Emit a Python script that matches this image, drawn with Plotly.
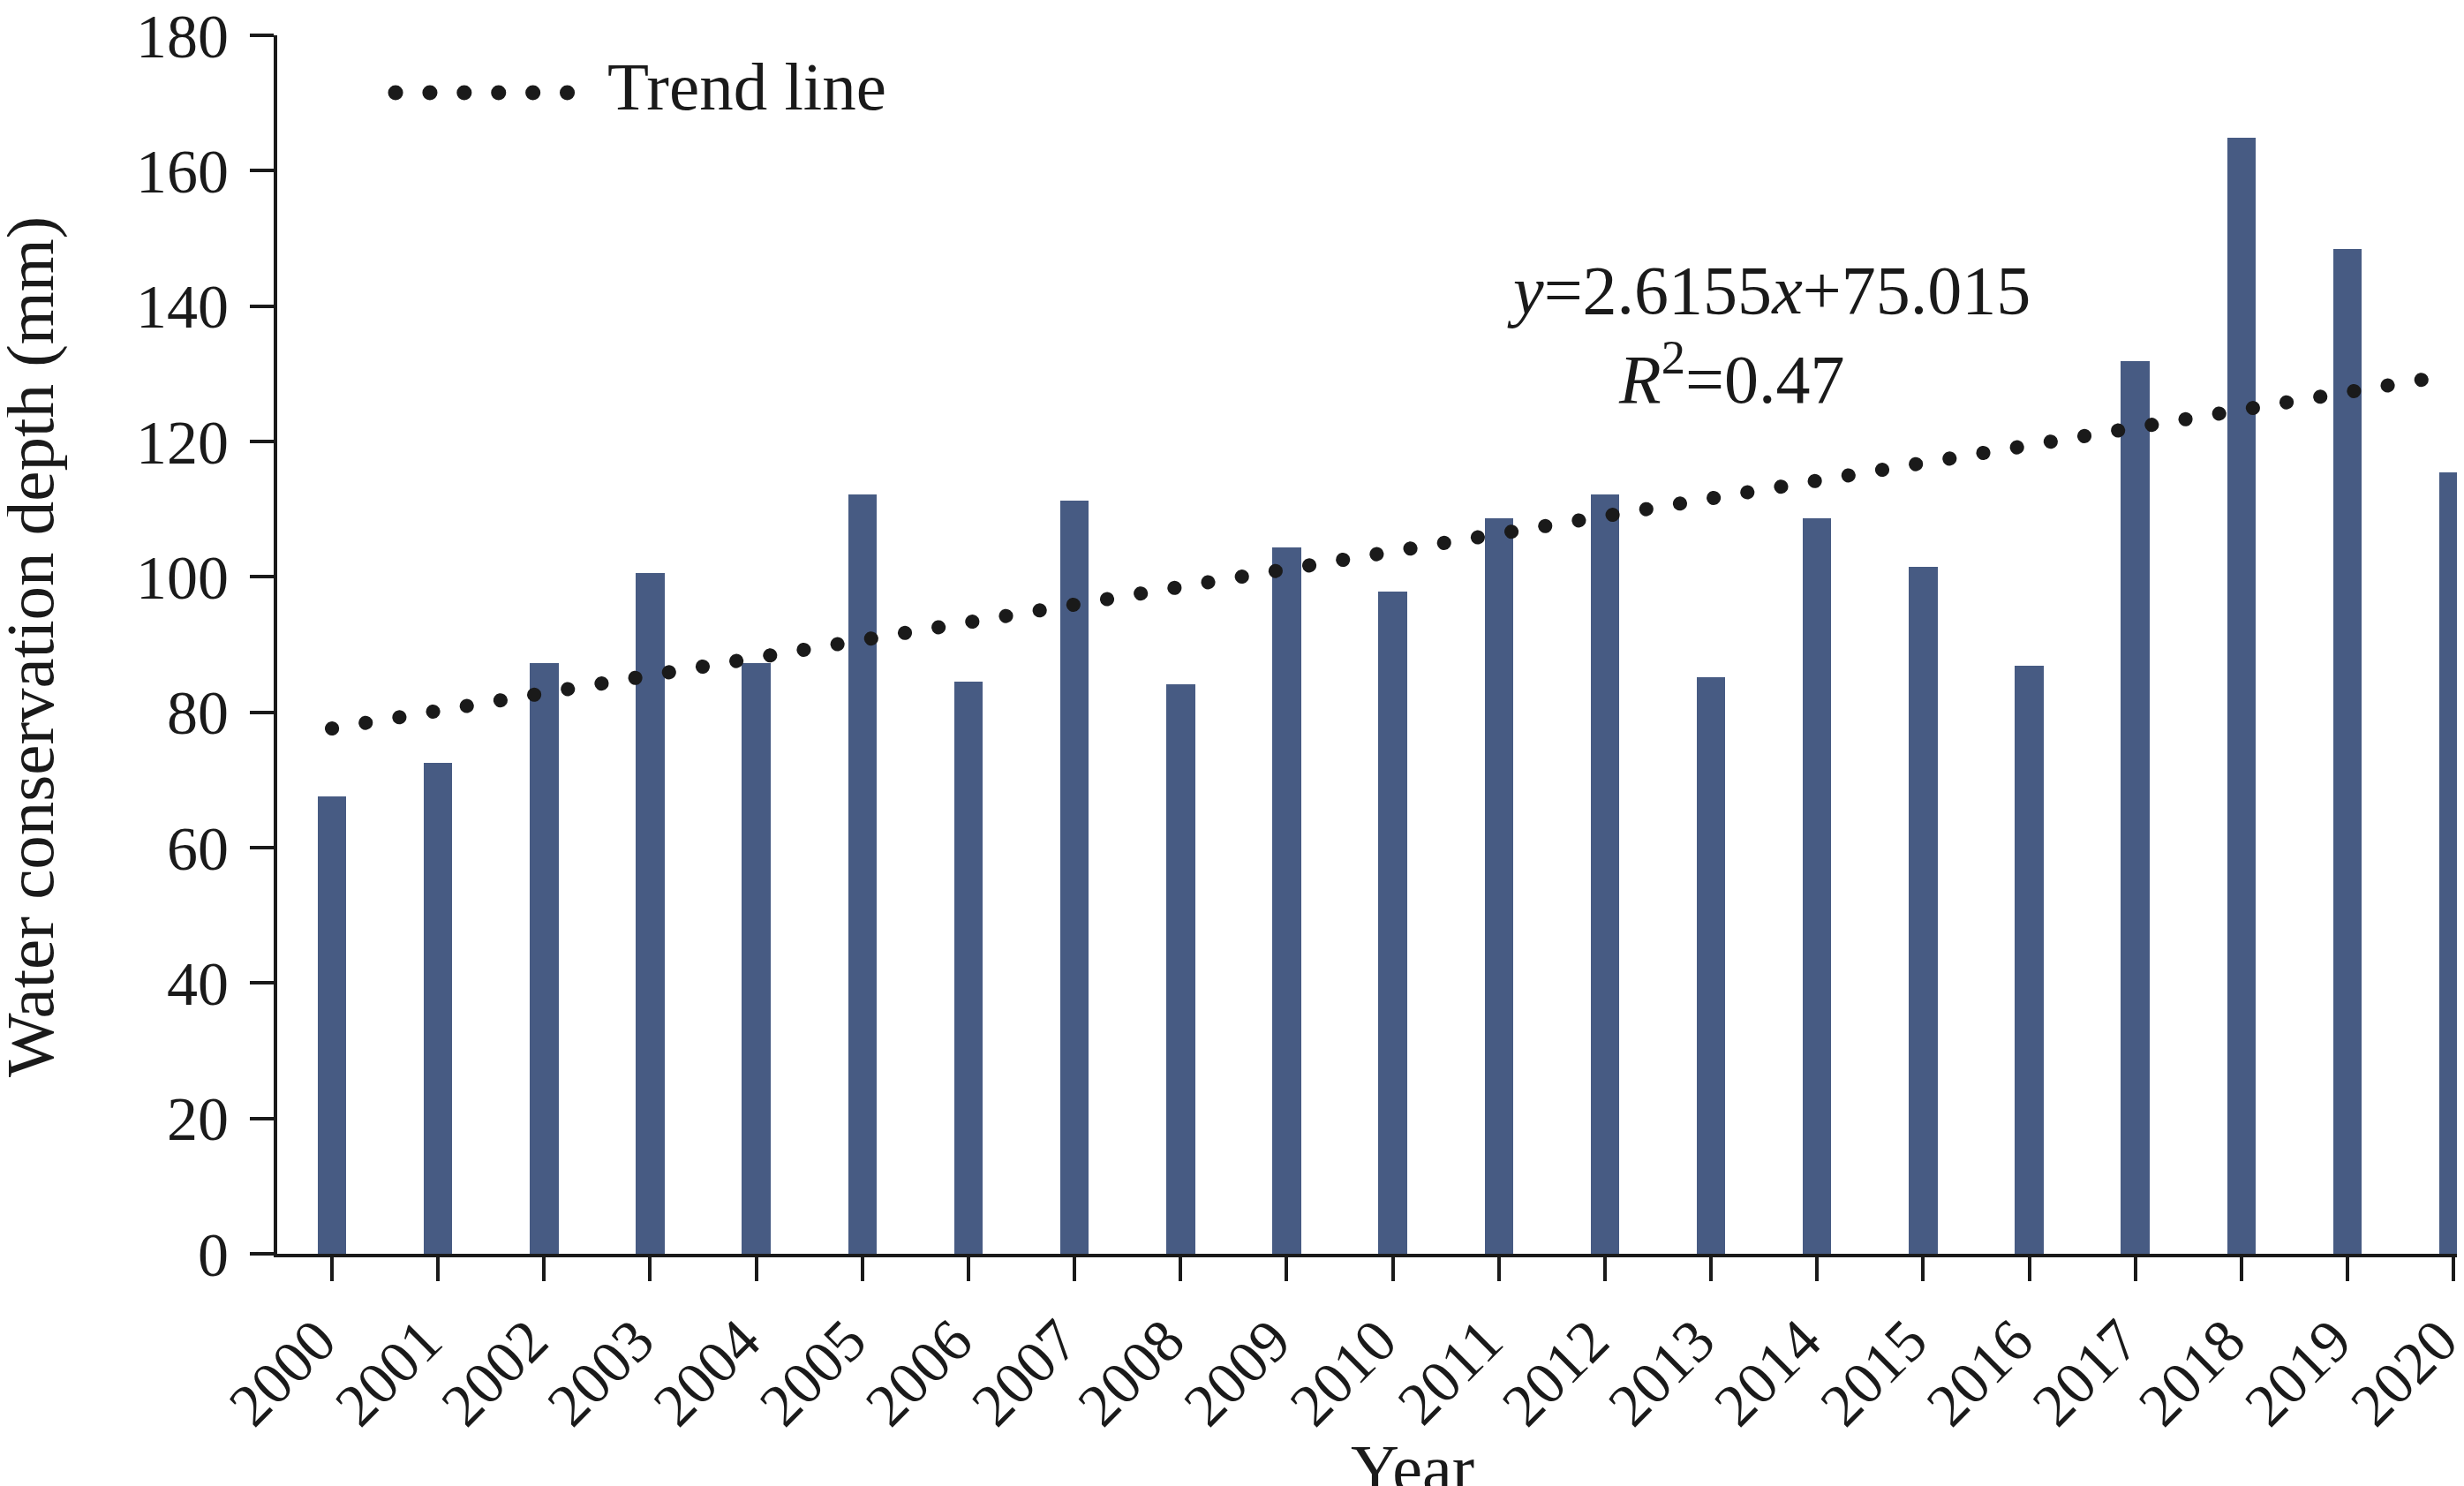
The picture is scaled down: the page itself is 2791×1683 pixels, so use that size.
import plotly.graph_objects as go

# ---- data ----
years = list(range(2000, 2021))
depth = [67.6, 72.5, 87.3, 100.6, 87.3, 112.2, 84.5, 111.2, 84.1, 104.3,
         97.8, 108.7, 112.2, 85.2, 108.7, 101.5, 86.9, 131.9, 164.9, 148.4, 115.4]
trend_years = [2000, 2020]
trend_values = [77.6, 129.9]
y_ticks = [0, 20, 40, 60, 80, 100, 120, 140, 160, 180]
equation_text = "<i>y</i>=2.6155<i>x</i>+75.015"
r2_text = "<i>R</i><sup>2</sup>=0.47"
legend_label = "Trend line"
y_title = "Water conservation depth (mm)"
x_title = "Year"

# ---- geometry (pixels) ----
W, H = 2791, 1683
L, R, T, B = 306, 2782, 32, 1412
FONT = "Liberation Serif, Times New Roman, serif"
INK = "#1a1a1a"
BAR = "#475b83"


def px(xp):
    return (xp - L) / (R - L)


def py(yp):
    return (B - yp) / (B - T)


fig = go.Figure()
fig.add_trace(go.Bar(x=years, y=depth, width=0.27, marker=dict(color=BAR, line=dict(width=0)),
                     showlegend=False))
fig.add_trace(go.Scatter(x=trend_years, y=trend_values, mode="lines",
                         line=dict(color=INK, width=16, dash="0.1px,38.6px"),
                         showlegend=False))

# manual legend
fig.add_shape(type="line", xref="paper", yref="paper",
              x0=px(440), x1=px(636), y0=py(97), y1=py(97),
              line=dict(color=INK, width=17, dash="0.1px,38.8px"))
fig.add_annotation(text=legend_label, xref="paper", yref="paper", x=px(678), y=py(90),
                   xanchor="left", yanchor="middle", showarrow=False,
                   font=dict(family=FONT, size=77, color=INK))
fig.add_annotation(text=equation_text, xref="paper", yref="paper", x=px(1995), y=py(321),
                   xanchor="center", yanchor="middle", showarrow=False,
                   font=dict(family=FONT, size=78, color=INK))
fig.add_annotation(text=r2_text, xref="paper", yref="paper", x=px(1953), y=py(416),
                   xanchor="center", yanchor="middle", showarrow=False,
                   font=dict(family=FONT, size=78, color=INK))
fig.add_annotation(text=y_title, xref="paper", yref="paper", x=px(26), y=py(725),
                   xanchor="center", yanchor="middle", textangle=-90, showarrow=False,
                   font=dict(family=FONT, size=77, color=INK))
fig.add_annotation(text=x_title, xref="paper", yref="paper", x=px(1592), y=py(1655),
                   xanchor="center", yanchor="middle", showarrow=False,
                   font=dict(family=FONT, size=76, color=INK))

fig.update_layout(
    width=W, height=H,
    margin=dict(l=L, r=W - R, t=T, b=H - B, pad=0, autoexpand=False),
    paper_bgcolor="white", plot_bgcolor="white",
    bargap=0, showlegend=False,
    font=dict(family=FONT, color=INK),
)
fig.update_xaxes(
    range=[1999.484, 2020.09], tickmode="array", tickvals=years,
    ticktext=[str(y) for y in years], tickangle=-45,
    ticks="outside", ticklen=27, tickwidth=4, tickcolor=INK,
    showline=True, linecolor=INK, linewidth=4, showgrid=False, zeroline=False,
    tickfont=dict(family=FONT, size=68, color=INK), ticklabeloverflow="allow",
    ticklabelshift=-16, automargin=False,
)
fig.update_yaxes(
    range=[0, 180.001], tickmode="array", tickvals=y_ticks,
    ticks="outside", ticklen=27, tickwidth=4, tickcolor=INK,
    showline=True, linecolor=INK, linewidth=4, showgrid=False, zeroline=False,
    tickfont=dict(family=FONT, size=70, color=INK), ticklabelstandoff=10,
    ticklabeloverflow="allow", automargin=False,
)

post = """
var gd = document.getElementById('{plot_id}');
function rc(){
  gd.querySelectorAll('.scatterlayer path.js-line, .shapelayer path').forEach(function(p){
    p.style.strokeLinecap = 'round';
  });
}
rc();
if (gd.on) { gd.on('plotly_afterplot', rc); }
setTimeout(rc, 50); setTimeout(rc, 300);
"""
fig.write_html("out.html", post_script=post)
